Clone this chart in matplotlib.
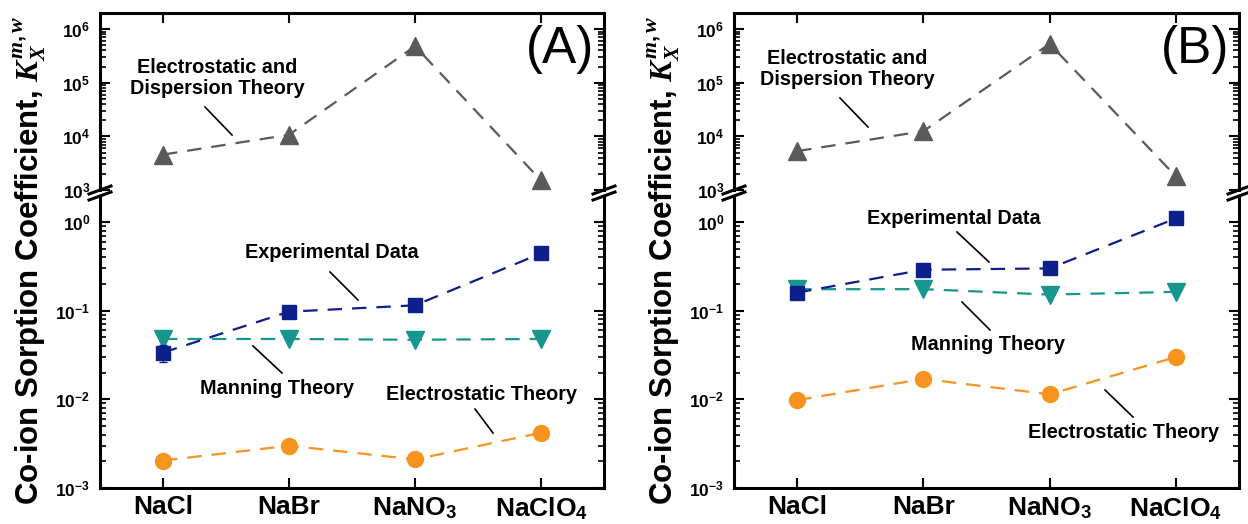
import matplotlib
matplotlib.use('Agg')
import matplotlib.pyplot as plt
from matplotlib.lines import Line2D
from matplotlib.ticker import LogLocator, LogFormatterSciNotation, NullFormatter

plt.rcParams['font.family'] = ['Liberation Sans', 'DejaVu Sans']
plt.rcParams['font.weight'] = 'bold'
plt.rcParams['mathtext.fontset'] = 'custom'
plt.rcParams['mathtext.rm'] = 'Liberation Sans:bold'
plt.rcParams['mathtext.bf'] = 'Liberation Sans:bold'
plt.rcParams['mathtext.it'] = 'Liberation Serif:italic'

# ---------------- data ----------------
salts = ['NaCl', 'NaBr', 'NaNO$_3$', 'NaClO$_4$']

a_disp = [4570, 10700, 4.8e5, 1510]
a_exp = [0.0337, 0.0975, 0.115, 0.443]
a_exp_err = [0.0075, 0.008, 0.009, 0.03]
a_man = [0.048, 0.048, 0.047, 0.048]
a_elec = [0.00204, 0.0030, 0.0021, 0.0042]

b_disp = [5300, 12500, 5.3e5, 1800]
b_exp = [0.16, 0.29, 0.30, 1.1]
b_exp_err = [0.01, 0.02, 0.02, 0.05]
b_man = [0.175, 0.175, 0.152, 0.163]
b_elec = [0.0098, 0.017, 0.0114, 0.030]

ylabel = 'Co-ion Sorption Coefficient, $K_X^{m,w}$'
lbl_disp = 'Electrostatic and\nDispersion Theory'
lbl_exp = 'Experimental Data'
lbl_man = 'Manning Theory'
lbl_elec = 'Electrostatic Theory'

c_disp = '#5a5a5a'
c_exp = '#0c1f8a'
c_man = '#17958f'
c_elec = '#f7931e'

W, H = 1248, 524
fig = plt.figure(figsize=(W / 100, H / 100), dpi=100)


def rect(x0, y0, x1, y1):
    return [x0 / W, 1 - y1 / H, (x1 - x0) / W, (y1 - y0) / H]


def fpt(x, y):
    return x / W, 1 - y / H


DASH = (0, (6.5, 4.5))


def panel(x0, x1, letter, disp, exp, exp_err, man, elec, ann):
    top = fig.add_axes(rect(x0, 13, x1, 190))
    bot = fig.add_axes(rect(x0, 196, x1, 488))
    xs = list(range(len(salts)))
    top.plot(xs, disp, linestyle=DASH, color=c_disp, lw=1.6, marker='^',
             ms=13, mec=c_disp, mfc=c_disp, zorder=3)
    bot.plot(xs, man, linestyle=DASH, color=c_man, lw=1.6, marker='v',
             ms=12.5, mec=c_man, mfc=c_man, zorder=3)
    bot.errorbar(xs, exp, yerr=exp_err, linestyle=DASH, color=c_exp, lw=1.6,
                 marker='s', ms=10.5, mec=c_exp, mfc=c_exp, ecolor=c_exp,
                 elinewidth=1.0, capsize=3, zorder=4)
    bot.plot(xs, elec, linestyle=DASH, color=c_elec, lw=1.6, marker='o',
             ms=11.5, mec=c_elec, mfc=c_elec, zorder=3)

    top.set_ylim(1e3, 10 ** 6.3)
    bot.set_ylim(1e-3, 10 ** 0.294)
    for ax in (top, bot):
        ax.set_yscale('log')
        ax.set_xlim(-0.5, 3.5)
        ax.yaxis.set_major_locator(LogLocator(base=10, numticks=20))
        ax.yaxis.set_minor_locator(LogLocator(base=10, subs=range(2, 10), numticks=20))
        ax.yaxis.set_major_formatter(LogFormatterSciNotation())
        ax.yaxis.set_minor_formatter(NullFormatter())
        ax.tick_params(axis='y', which='both', direction='in', left=True,
                       right=True, width=1.5, labelsize=12.5, pad=7)
        ax.tick_params(axis='y', which='major', length=7)
        ax.tick_params(axis='y', which='minor', length=4, width=1.2)
        for s in ax.spines.values():
            s.set_linewidth(2.2)
        ax.set_xticks(xs)
    top.spines['bottom'].set_visible(False)
    bot.spines['top'].set_visible(False)
    top.tick_params(axis='x', direction='in', bottom=False, top=True,
                    labelbottom=False, length=7, width=1.5)
    bot.set_xticklabels(salts)
    bot.tick_params(axis='x', direction='in', bottom=True, top=False,
                    length=7, width=1.5, labelsize=19, pad=5)
    for lab in top.get_yticklabels() + bot.get_yticklabels():
        lab.set_fontweight('bold')

    # axis break marks
    for xx in (x0, x1):
        for yy in (190, 196):
            (ax_, ay_), (bx_, by_) = fpt(xx - 11, yy + 4), fpt(xx + 11, yy - 4)
            fig.add_artist(Line2D([ax_, bx_], [ay_, by_], color='black', lw=2.2))

    # panel letter
    fig.text(*fpt(x1 - 10, 50), letter, fontsize=37, fontweight='normal',
             ha='right', va='center')

    # y label
    fig.text(*fpt(x0 - 70, 260), ylabel, rotation=90, fontsize=22.5,
             fontweight='bold', ha='center', va='center')

    # annotations
    for txt, (tx, ty), (lx0, ly0), (lx1, ly1) in ann:
        fig.text(*fpt(tx, ty), txt, fontsize=14.3, fontweight='bold',
                 ha='center', va='center', linespacing=1.15)
        p0, p1 = fpt(lx0, ly0), fpt(lx1, ly1)
        fig.add_artist(Line2D([p0[0], p1[0]], [p0[1], p1[1]], color='black', lw=1.2))


ann_a = [
    (lbl_disp, (217, 78), (205, 107), (232, 135)),
    (lbl_exp, (332, 253), (330, 272), (358, 300)),
    (lbl_man, (277, 388), (253, 346), (282, 373)),
    (lbl_elec, (482, 395), (475, 409), (493, 433)),
]
ann_b = [
    (lbl_disp, (847, 69), (840, 98), (868, 127)),
    (lbl_exp, (954, 218), (957, 232), (989, 262)),
    (lbl_man, (988, 345), (962, 302), (990, 330)),
    (lbl_elec, (1124, 433), (1105, 390), (1133, 417)),
]

panel(100, 604, '(A)', a_disp, a_exp, a_exp_err, a_man, a_elec, ann_a)
panel(734, 1239, '(B)', b_disp, b_exp, b_exp_err, b_man, b_elec, ann_b)

fig.savefig('out.png', dpi=100)
